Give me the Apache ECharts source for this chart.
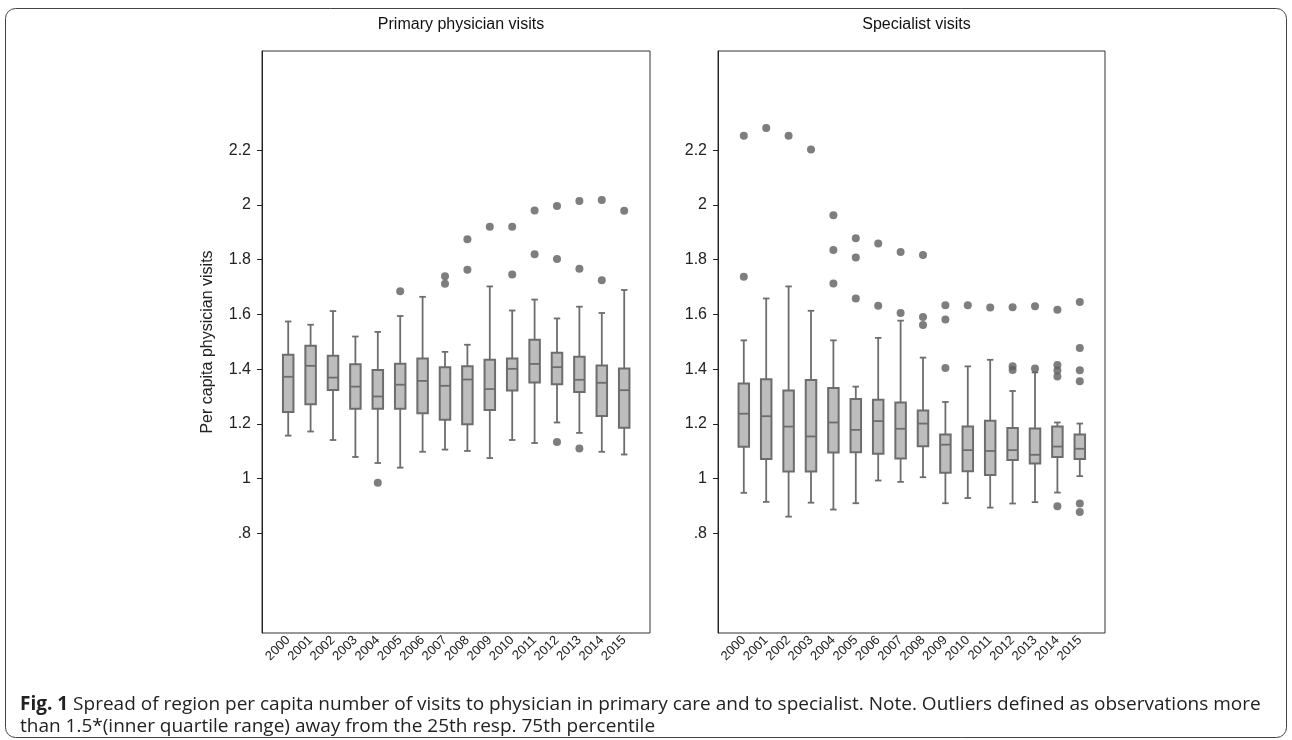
<!DOCTYPE html>
<html>
<head>
<meta charset="utf-8">
<script src="https://cdn.jsdelivr.net/npm/echarts@6/dist/echarts.min.js"></script>
<style>
html,body{margin:0;padding:0;background:#fff;}
#chart{width:1292px;height:740px;}
</style>
</head>
<body>
<div id="chart"></div>
<script>
// ---------- data ----------
const years = ['2000','2001','2002','2003','2004','2005','2006','2007','2008','2009','2010','2011','2012','2013','2014','2015'];
const yTickValues = [0.8, 1, 1.2, 1.4, 1.6, 1.8, 2, 2.2];
const yTickLabels = ['.8', '1', '1.2', '1.4', '1.6', '1.8', '2', '2.2'];

// Primary physician visits
const primLow  = [1.157,1.172,1.141,1.079,1.057,1.040,1.098,1.106,1.101,1.075,1.141,1.130,1.205,1.167,1.098,1.088];
const primQ1   = [1.243,1.272,1.324,1.255,1.255,1.255,1.239,1.215,1.199,1.251,1.322,1.351,1.345,1.316,1.229,1.186];
const primMed  = [1.372,1.412,1.369,1.336,1.300,1.343,1.357,1.339,1.362,1.327,1.401,1.419,1.407,1.361,1.350,1.323];
const primQ3   = [1.452,1.485,1.449,1.418,1.397,1.420,1.439,1.407,1.410,1.434,1.439,1.507,1.460,1.445,1.413,1.402];
const primHigh = [1.574,1.562,1.612,1.519,1.536,1.594,1.664,1.463,1.489,1.702,1.614,1.654,1.585,1.628,1.605,1.689];
const primOutliers = [
  ['2004',0.985],['2005',1.684],['2007',1.739],['2007',1.712],['2008',1.874],['2008',1.763],
  ['2009',1.920],['2010',1.920],['2010',1.746],['2011',1.979],['2011',1.820],
  ['2012',1.996],['2012',1.802],['2012',1.134],['2013',2.014],['2013',1.767],['2013',1.110],
  ['2014',2.018],['2014',1.725],['2015',1.978]
];

// Specialist visits
const specLow  = [0.948,0.915,0.861,0.912,0.887,0.910,0.993,0.988,1.005,0.910,0.929,0.894,0.909,0.914,0.949,1.009];
const specQ1   = [1.116,1.072,1.026,1.026,1.095,1.096,1.091,1.073,1.118,1.021,1.027,1.013,1.068,1.055,1.079,1.072];
const specMed  = [1.237,1.228,1.190,1.154,1.205,1.178,1.210,1.182,1.201,1.124,1.104,1.101,1.104,1.087,1.117,1.109];
const specQ3   = [1.347,1.363,1.322,1.360,1.331,1.291,1.288,1.278,1.249,1.161,1.190,1.211,1.185,1.183,1.190,1.161];
const specHigh = [1.505,1.658,1.702,1.613,1.505,1.336,1.514,1.577,1.442,1.280,1.410,1.434,1.320,1.388,1.205,1.201];
const specOutliers = [
  ['2000',2.252],['2000',1.737],['2001',2.281],['2002',2.252],['2003',2.202],
  ['2004',1.962],['2004',1.835],['2004',1.713],['2005',1.878],['2005',1.808],['2005',1.658],
  ['2006',1.859],['2006',1.631],['2007',1.828],['2007',1.605],['2008',1.817],['2008',1.590],['2008',1.561],
  ['2009',1.633],['2009',1.581],['2009',1.404],['2010',1.633],['2011',1.625],
  ['2012',1.626],['2012',1.410],['2012',1.397],['2013',1.630],['2013',1.402],
  ['2014',1.617],['2014',1.415],['2014',1.395],['2014',1.373],['2014',0.899],
  ['2015',1.645],['2015',1.477],['2015',1.396],['2015',1.356],['2015',0.909],['2015',0.878]
];

const panelTitles = ['Primary physician visits', 'Specialist visits'];
const yAxisTitle = 'Per capita physician visits';
const captionBold = 'Fig. 1';
const captionLine1 = ' Spread of region per capita number of visits to physician in primary care and to specialist. Note. Outliers defined as observations more';
const captionLine2 = 'than 1.5*(inner quartile range) away from the 25th resp. 75th percentile';

// ---------- build ----------
function boxRows(lo, q1, md, q3, hi) {
  return years.map((y, i) => [i, lo[i], q1[i], md[i], q3[i], hi[i]]);
}
const FONT = '"Liberation Sans", Arial, Helvetica, sans-serif';
const Y_MIN = 0.436, Y_MAX = 2.562;
const BOX_COLOR = '#6d6d6d', BOX_FILL = '#bdbdbd', DOT = '#5e5e5e';

function renderBox(params, api) {
  const xi = api.value(0);
  const cx = api.coord([xi, api.value(3)])[0];
  const yLo = api.coord([xi, api.value(1)])[1];
  const yQ1 = api.coord([xi, api.value(2)])[1];
  const yMd = api.coord([xi, api.value(3)])[1];
  const yQ3 = api.coord([xi, api.value(4)])[1];
  const yHi = api.coord([xi, api.value(5)])[1];
  const bw = 10.5, cw = 6.5;
  const ls = { stroke: BOX_COLOR, lineWidth: 1.8 };
  return {
    type: 'group',
    children: [
      { type: 'line', shape: { x1: cx, y1: yQ3, x2: cx, y2: yHi }, style: ls },
      { type: 'line', shape: { x1: cx, y1: yQ1, x2: cx, y2: yLo }, style: ls },
      { type: 'line', shape: { x1: cx - cw / 2, y1: yHi, x2: cx + cw / 2, y2: yHi }, style: ls },
      { type: 'line', shape: { x1: cx - cw / 2, y1: yLo, x2: cx + cw / 2, y2: yLo }, style: ls },
      { type: 'rect', shape: { x: cx - bw / 2, y: yQ3, width: bw, height: yQ1 - yQ3 },
        style: { fill: BOX_FILL, stroke: BOX_COLOR, lineWidth: 2 } },
      { type: 'line', shape: { x1: cx - bw / 2, y1: yMd, x2: cx + bw / 2, y2: yMd }, style: { stroke: BOX_COLOR, lineWidth: 1.8 } }
    ]
  };
}

// Panel geometry (frame) and data grid (inner band area)
const frames = [
  { left: 262, top: 51, width: 388, height: 582 },
  { left: 718, top: 51, width: 387, height: 582 }
];
const dataGrids = [
  { left: 277, top: 51, width: 358.4, height: 582 },
  { left: 732.6, top: 51, width: 358.4, height: 582 }
];

const grid = [], xAxis = [], yAxis = [], series = [];
frames.forEach((f, p) => {
  grid.push(Object.assign({ show: true, borderColor: '#333', borderWidth: 1, backgroundColor: 'transparent' }, f));
});
dataGrids.forEach((g, p) => grid.push(Object.assign({}, g)));

// frame axes (hidden)
[0, 1].forEach(p => {
  xAxis.push({ gridIndex: p, type: 'value', show: false, min: 0, max: 1 });
  yAxis.push({ gridIndex: p, type: 'value', show: false, min: 0, max: 1 });
});
// data axes
[0, 1].forEach(p => {
  const gi = 2 + p;
  xAxis.push({
    gridIndex: gi, type: 'category', data: years, boundaryGap: true,
    axisLine: { show: false }, axisTick: { show: false },
    axisLabel: { interval: 0, rotate: 45, fontSize: 13, color: '#222', fontFamily: FONT, margin: 5 }
  });
  yAxis.push({
    gridIndex: gi, type: 'value', min: Y_MIN, max: Y_MAX,
    offset: dataGrids[p].left - frames[p].left,
    splitLine: { show: false },
    axisLine: { show: true, lineStyle: { color: '#222', width: 1 } },
    axisTick: { show: true, length: 5, lineStyle: { color: '#222' }, customValues: yTickValues },
    axisLabel: {
      customValues: yTickValues, fontSize: 16, color: '#222', fontFamily: FONT, margin: 11,
      formatter: v => { const i = yTickValues.findIndex(t => Math.abs(t - v) < 1e-6); return i >= 0 ? yTickLabels[i] : ''; }
    },
    name: p === 0 ? yAxisTitle : '',
    nameLocation: 'middle', nameGap: 46, nameRotate: 90,
    nameTextStyle: { fontSize: 16, color: '#222', fontFamily: FONT }
  });
});

const boxSets = [
  boxRows(primLow, primQ1, primMed, primQ3, primHigh),
  boxRows(specLow, specQ1, specMed, specQ3, specHigh)
];
const outSets = [primOutliers, specOutliers];
[0, 1].forEach(p => {
  series.push({
    type: 'custom', xAxisIndex: 2 + p, yAxisIndex: 2 + p,
    renderItem: renderBox, data: boxSets[p],
    encode: { x: 0, y: [1, 2, 3, 4, 5] }, silent: true
  });
  series.push({
    type: 'scatter', xAxisIndex: 2 + p, yAxisIndex: 2 + p,
    data: outSets[p], symbol: 'circle', symbolSize: 8,
    itemStyle: { color: DOT }, silent: true, z: 3
  });
});

const title = panelTitles.map((t, p) => ({
  text: t, left: frames[p].left + frames[p].width / 2, top: 12, textAlign: 'center',
  textStyle: { fontSize: 16, fontWeight: 'normal', color: '#111', fontFamily: FONT }
}));

const CAP_FONT = '"Open Sans", "Noto Sans", sans-serif';
const option = {
  animation: false,
  backgroundColor: '#fff',
  title: title,
  grid: grid, xAxis: xAxis, yAxis: yAxis, series: series,
  graphic: [
    { type: 'rect', shape: { x: 5.5, y: 8.5, width: 1281, height: 729, r: 10 },
      style: { fill: 'none', stroke: '#444', lineWidth: 1 }, silent: true, z: -10 },
    { type: 'text', left: 20, top: 695,
      style: { text: '{b|' + captionBold + '}{n|' + captionLine1 + '}',
        rich: { b: { fontWeight: 'bold', fontSize: 19, fontFamily: CAP_FONT, fill: '#222' },
                n: { fontSize: 19, fontFamily: CAP_FONT, fill: '#222' } } } },
    { type: 'text', left: 20, top: 717,
      style: { text: captionLine2, fontSize: 19, fontFamily: CAP_FONT, fill: '#222' } }
  ]
};
const chart = echarts.init(document.getElementById('chart'), null, { renderer: 'canvas' });
chart.setOption(option);
</script>
</body>
</html>
